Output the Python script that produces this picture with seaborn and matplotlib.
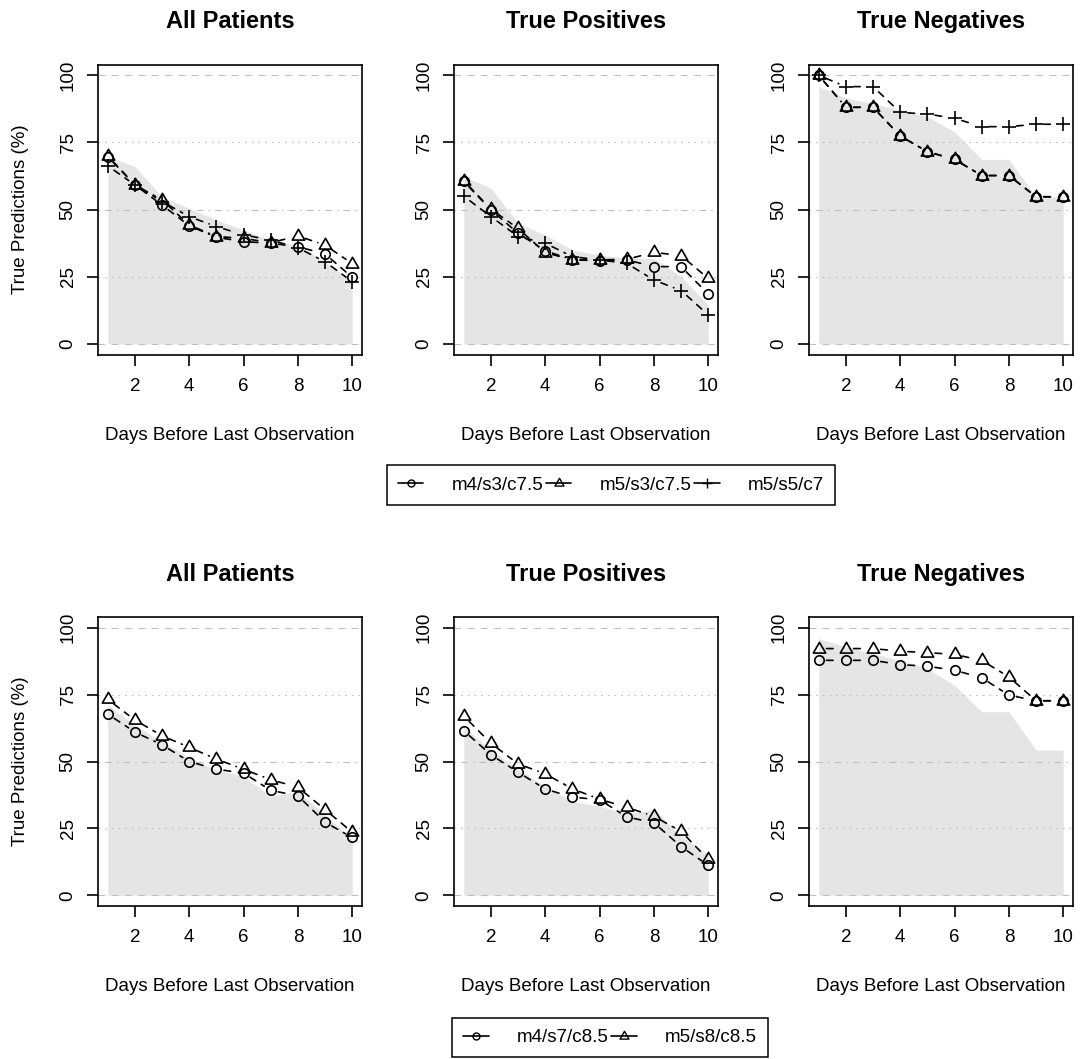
import matplotlib
matplotlib.use("Agg")
import matplotlib.pyplot as plt
from matplotlib.lines import Line2D
from matplotlib.path import Path
import seaborn as sns

# ---- data -------------------------------------------------------------
days = [1, 2, 3, 4, 5, 6, 7, 8, 9, 10]

# reference (shaded) curves
base_all_top = [70.0, 66.0, 54.8, 50.5, 46.2, 42.4, 38.7, 36.8, 30.6, 23.2]
base_pos_top = [62.3, 58.0, 45.0, 40.6, 35.0, 33.1, 31.9, 31.9, 25.1, 14.5]
base_neg_top = [95.8, 91.5, 89.5, 87.1, 84.6, 79.0, 68.7, 68.7, 54.8, 54.8]
base_all_bot = [71.1, 63.6, 57.4, 51.5, 46.9, 44.4, 37.0, 38.8, 30.1, 20.8]
base_pos_bot = [63.0, 54.3, 47.1, 40.7, 35.1, 33.3, 30.5, 32.0, 22.1, 15.3]
base_neg_bot = [95.9, 92.8, 90.3, 87.8, 84.7, 78.5, 68.6, 68.6, 54.3, 54.3]

# first model set
m4s3_all = [69.7, 59.2, 51.7, 44.0, 39.7, 38.1, 37.5, 36.2, 33.5, 24.8]
m5s3_all = [70.0, 59.2, 53.6, 44.3, 40.0, 39.3, 37.7, 40.2, 36.8, 29.9]
m5s5_all = [66.3, 59.2, 53.0, 47.4, 43.7, 40.6, 38.7, 35.8, 30.6, 23.2]
m4s3_pos = [60.5, 49.9, 41.2, 34.7, 31.3, 31.0, 31.3, 28.8, 28.8, 18.6]
m5s3_pos = [60.8, 50.2, 43.0, 34.0, 31.3, 31.3, 31.5, 34.1, 32.9, 24.4]
m5s5_pos = [55.0, 47.4, 40.0, 37.5, 32.5, 31.3, 30.0, 23.8, 19.9, 10.8]
m4s3_neg = [100.0, 88.1, 88.1, 77.4, 71.6, 68.7, 62.7, 62.7, 54.8, 54.8]
m5s3_neg = [100.0, 88.1, 88.1, 77.4, 71.6, 68.7, 62.7, 62.7, 54.8, 54.8]
m5s5_neg = [100.0, 95.8, 95.8, 86.2, 85.6, 84.0, 80.9, 80.9, 81.8, 81.8]

# second model set
m4s7_all = [67.7, 61.0, 56.2, 50.0, 47.1, 45.7, 39.2, 37.2, 27.3, 21.6]
m5s8_all = [73.2, 65.5, 59.6, 55.3, 50.9, 47.1, 43.2, 40.4, 32.0, 23.6]
m4s7_pos = [61.5, 52.5, 46.0, 39.7, 36.7, 35.7, 29.3, 27.1, 18.2, 11.2]
m5s8_pos = [67.0, 56.8, 49.1, 45.4, 39.8, 35.9, 32.9, 29.5, 23.9, 13.4]
m4s7_neg = [87.8, 87.8, 87.8, 86.2, 85.6, 84.1, 81.3, 74.8, 72.7, 72.7]
m5s8_neg = [92.2, 92.2, 92.2, 91.2, 90.7, 90.0, 87.8, 81.6, 72.7, 72.7]

titles = ["All Patients", "True Positives", "True Negatives"]
labels_top = ["m4/s3/c7.5", "m5/s3/c7.5", "m5/s5/c7"]
labels_bot = ["m4/s7/c8.5", "m5/s8/c8.5"]
xticks = [2, 4, 6, 8, 10]
yticks = [0, 25, 50, 75, 100]

# ---- style ------------------------------------------------------------
sns.set_style("ticks")
plt.rcParams["font.family"] = ["Liberation Sans", "DejaVu Sans"]
plt.rcParams["lines.scale_dashes"] = False
for key in ["text.color", "axes.labelcolor", "xtick.color", "ytick.color",
            "axes.edgecolor"]:
    plt.rcParams[key] = "black"

BLACK = "black"
GRID = "#BEBEBE"
SHADE = "#E5E5E5"
DASHED = (0, (4.8, 4.8))
DOTTED = (0, (1.2, 3.6))
DASHDOT = (0, (1.2, 3.6, 4.8, 3.6))
# equilateral triangle centred on its centroid
TRI = Path([(0.0, 1.0), (-0.866, -0.5), (0.866, -0.5), (0.0, 1.0)], closed=True)
STYLES = [dict(marker="o", markersize=6.8),
          dict(marker=TRI, markersize=10.3),
          dict(marker="+", markersize=9.4)]
LEG_STYLES = [dict(marker="o", markersize=5.0),
              dict(marker=TRI, markersize=7.5),
              dict(marker="+", markersize=7.0)]
FS = 13.5

fig = plt.figure(figsize=(10.8, 10.59), dpi=100)
W, H = 1080.0, 1059.0
lefts = [98, 454, 809]
rows = [(64.6, 354.7), (617.0, 906.0)]


def draw_panel(ax, title, base, series, ylabel):
    ax.fill_between(days, 0, base, color=SHADE, lw=0, zorder=1)
    for yv, ls in zip(yticks, [DASHED, DOTTED, DASHDOT, DOTTED, DASHED]):
        ax.axhline(yv, color=GRID, lw=0.8, ls=ls, zorder=2)
    for vals, st in zip(series, STYLES):
        # dashed connectors that stop short of the symbols
        for i in range(len(days) - 1):
            ax.annotate("", xy=(days[i + 1], vals[i + 1]),
                        xytext=(days[i], vals[i]),
                        arrowprops=dict(arrowstyle="-", color=BLACK, lw=1.2,
                                        linestyle=DASHED,
                                        shrinkA=5.5, shrinkB=5.5),
                        zorder=3)
        sns.lineplot(x=days, y=vals, ax=ax, color=BLACK, linestyle="",
                     markerfacecolor="none", markeredgecolor=BLACK,
                     markeredgewidth=1.2, errorbar=None, zorder=4, **st)
    ax.set_xlim(0.64, 10.36)
    ax.set_ylim(-4, 104)
    ax.set_xticks(xticks)
    ax.set_yticks(yticks)
    ax.set_xticklabels([str(t) for t in xticks])
    ax.set_yticklabels([str(t) for t in yticks])
    for sp in ax.spines.values():
        sp.set_visible(True)
        sp.set_color(BLACK)
        sp.set_linewidth(1.2)
    ax.tick_params(axis="both", direction="out", length=7.9, width=1.2,
                   color=BLACK, labelsize=FS, labelcolor=BLACK)
    ax.tick_params(axis="x", pad=9.0)
    ax.tick_params(axis="y", pad=7.5)
    for lab in ax.get_yticklabels():
        lab.set_rotation(90)
        lab.set_va("center")
    ax.set_title(title, fontsize=17, fontweight="bold", pad=26, color=BLACK)
    ax.set_xlabel("Days Before Last Observation", fontsize=FS, labelpad=23,
                  color=BLACK)
    if ylabel:
        ax.set_ylabel("True Predictions (%)", fontsize=FS, labelpad=22,
                      color=BLACK)
    else:
        ax.set_ylabel("")


top_data = [(base_all_top, [m4s3_all, m5s3_all, m5s5_all]),
            (base_pos_top, [m4s3_pos, m5s3_pos, m5s5_pos]),
            (base_neg_top, [m4s3_neg, m5s3_neg, m5s5_neg])]
bot_data = [(base_all_bot, [m4s7_all, m5s8_all]),
            (base_pos_bot, [m4s7_pos, m5s8_pos]),
            (base_neg_bot, [m4s7_neg, m5s8_neg])]

for (top, bottom), data in zip(rows, [top_data, bot_data]):
    for j, (left, (base, series)) in enumerate(zip(lefts, data)):
        ax = fig.add_axes([left / W, 1 - bottom / H, 264 / W, (bottom - top) / H])
        draw_panel(ax, titles[j], base, series, ylabel=(j == 0))


def add_legend(labels, center):
    handles = [Line2D([], [], color=BLACK, lw=1.2, markerfacecolor="none",
                      markeredgecolor=BLACK, markeredgewidth=1.0, **st)
               for st in LEG_STYLES[:len(labels)]]
    leg = fig.legend(handles, labels, loc="center", bbox_to_anchor=center,
                     ncol=len(labels), fontsize=FS, frameon=True,
                     fancybox=False, handlelength=1.35, handletextpad=1.5,
                     columnspacing=0.15, borderpad=0.6, framealpha=1)
    leg.get_frame().set_edgecolor(BLACK)
    leg.get_frame().set_linewidth(1.1)
    for t in leg.get_texts():
        t.set_color(BLACK)


add_legend(labels_top, (611 / W, 1 - 485 / H))
add_legend(labels_bot, (610 / W, 1 - 1037.5 / H))

fig.savefig("out.png", dpi=100)
